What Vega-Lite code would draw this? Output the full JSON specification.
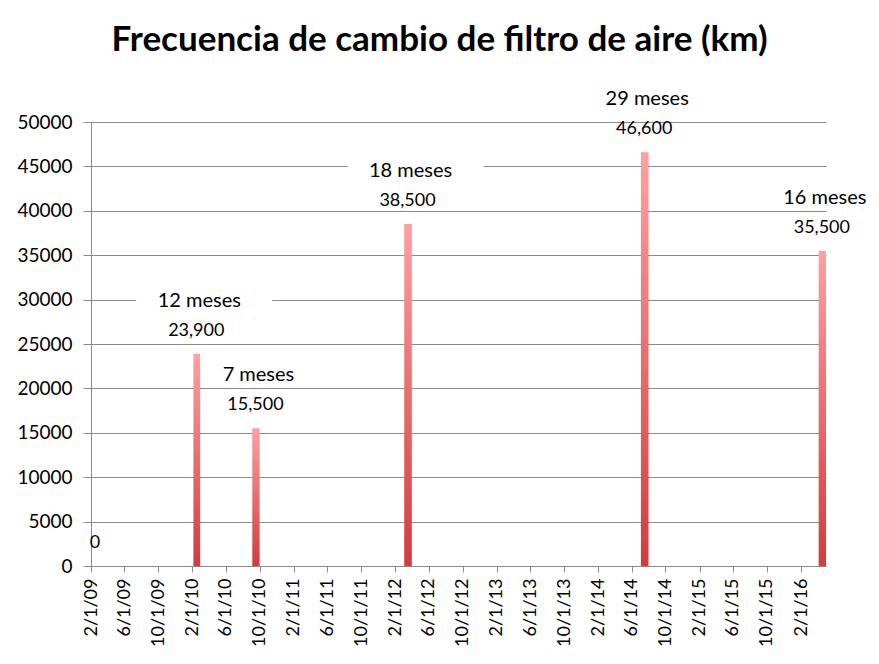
{
  "$schema": "https://vega.github.io/schema/vega-lite/v6.json",
  "autosize": {"type": "none"},
  "width": 735,
  "height": 444,
  "padding": {"left": 91, "top": 122, "right": 53, "bottom": 98},
  "background": "white",
  "title": {
    "text": "Frecuencia de cambio de filtro de aire (km)",
    "font": "Lato",
    "fontSize": 35,
    "fontWeight": "bold",
    "color": "#000000",
    "anchor": "middle",
    "frame": "group",
    "dx": -19,
    "offset": 2,
    "baseline": "alphabetic"
  },
  "data": {
    "values": [
      {"fecha": "2009-02-01", "km": 0, "meses": null},
      {"fecha": "2010-02-01", "km": 23900, "meses": "12 meses"},
      {"fecha": "2010-09-01", "km": 15500, "meses": "7 meses"},
      {"fecha": "2012-03-01", "km": 38500, "meses": "18 meses"},
      {"fecha": "2014-07-01", "km": 46600, "meses": "29 meses"},
      {"fecha": "2016-04-01", "km": 35500, "meses": "16 meses"}
    ]
  },
  "config": {
    "view": {"stroke": null},
    "font": "Lato",
    "axis": {
      "labelFont": "Lato",
      "labelFontSize": 18,
      "labelColor": "#000000",
      "domainColor": "#8a8a8a",
      "tickColor": "#8a8a8a",
      "gridColor": "#8a8a8a",
      "gridOpacity": 1,
      "domainWidth": 1,
      "tickWidth": 1,
      "gridWidth": 1,
      "title": null
    }
  },
  "encoding": {
    "x": {
      "field": "fecha",
      "type": "temporal",
      "timeUnit": "utcyearmonth",
      "scale": {
        "domain": [
          {"year": 2009, "month": 2, "date": 1, "utc": true},
          {"year": 2016, "month": 5, "date": 1, "utc": true}
        ]
      },
      "axis": {
        "grid": false,
        "labelExpr": "utcFormat(datum.value, '%-m/%-d/%y')",
        "labelAngle": -90,
        "labelAlign": "right",
        "labelBaseline": "middle",
        "tickSize": 6,
        "labelPadding": 6,
        "labelOverlap": false,
        "labelFlush": false,
        "values": [
          {"year": 2009, "month": 2, "date": 1, "utc": true},
          {"year": 2009, "month": 6, "date": 1, "utc": true},
          {"year": 2009, "month": 10, "date": 1, "utc": true},
          {"year": 2010, "month": 2, "date": 1, "utc": true},
          {"year": 2010, "month": 6, "date": 1, "utc": true},
          {"year": 2010, "month": 10, "date": 1, "utc": true},
          {"year": 2011, "month": 2, "date": 1, "utc": true},
          {"year": 2011, "month": 6, "date": 1, "utc": true},
          {"year": 2011, "month": 10, "date": 1, "utc": true},
          {"year": 2012, "month": 2, "date": 1, "utc": true},
          {"year": 2012, "month": 6, "date": 1, "utc": true},
          {"year": 2012, "month": 10, "date": 1, "utc": true},
          {"year": 2013, "month": 2, "date": 1, "utc": true},
          {"year": 2013, "month": 6, "date": 1, "utc": true},
          {"year": 2013, "month": 10, "date": 1, "utc": true},
          {"year": 2014, "month": 2, "date": 1, "utc": true},
          {"year": 2014, "month": 6, "date": 1, "utc": true},
          {"year": 2014, "month": 10, "date": 1, "utc": true},
          {"year": 2015, "month": 2, "date": 1, "utc": true},
          {"year": 2015, "month": 6, "date": 1, "utc": true},
          {"year": 2015, "month": 10, "date": 1, "utc": true},
          {"year": 2016, "month": 2, "date": 1, "utc": true}
        ]
      }
    },
    "y": {
      "field": "km",
      "type": "quantitative",
      "scale": {"domain": [0, 50000], "nice": false},
      "axis": {
        "values": [0, 5000, 10000, 15000, 20000, 25000, 30000, 35000, 40000, 45000, 50000],
        "format": "d",
        "grid": true,
        "labelFontSize": 19,
        "tickSize": 8,
        "labelPadding": 11
      }
    }
  },
  "layer": [
    {
      "transform": [{"filter": "datum.meses != null"}],
      "mark": {
        "type": "point",
        "shape": "M-1,-0.16L1,-0.16L1,0.16L-1,0.16Z",
        "size": 18496,
        "filled": true,
        "color": "white",
        "opacity": 1,
        "strokeWidth": 0,
        "xOffset": 8,
        "yOffset": -53
      },
      "encoding": {
        "x": {"field": "fecha", "type": "temporal", "timeUnit": "utcyearmonth", "bandPosition": 0.5}
      }
    },
    {
      "mark": {
        "type": "bar",
        "binSpacing": 1,
        "color": {
          "gradient": "linear",
          "x1": 0, "y1": 0, "x2": 0, "y2": 1,
          "stops": [
            {"offset": 0, "color": "#ffa0a0"},
            {"offset": 1, "color": "#d23c3c"}
          ]
        }
      }
    },
    {
      "mark": {
        "type": "text",
        "font": "Lato",
        "fontSize": 18,
        "color": "#000000",
        "baseline": "middle",
        "yOffset": -23
      },
      "encoding": {
        "x": {"field": "fecha", "type": "temporal", "timeUnit": "utcyearmonth", "bandPosition": 0.5},
        "text": {"field": "km", "type": "quantitative", "format": ","}
      }
    },
    {
      "transform": [{"filter": "datum.meses != null"}],
      "mark": {
        "type": "text",
        "font": "Lato",
        "fontSize": 20,
        "color": "#000000",
        "baseline": "middle",
        "yOffset": -53,
        "dx": 3
      },
      "encoding": {
        "x": {"field": "fecha", "type": "temporal", "timeUnit": "utcyearmonth", "bandPosition": 0.5},
        "text": {"field": "meses", "type": "nominal"}
      }
    }
  ]
}
